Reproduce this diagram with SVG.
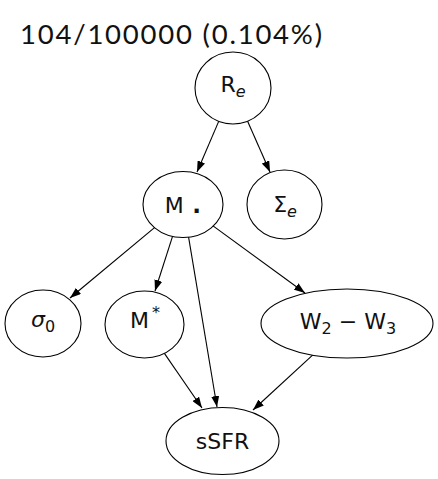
<svg xmlns="http://www.w3.org/2000/svg" width="438" height="479" viewBox="0 0 438 479">
<style>
.n{fill:#fff;stroke:#000;stroke-width:1.1}
.e{stroke:#000;stroke-width:1.1;fill:none;marker-end:url(#ah)}
.t{font-family:"DejaVu Sans",sans-serif;font-size:22px;fill:#111;text-anchor:middle}
.s{font-size:16px;fill:#111}
.i{font-style:italic}
</style>
<defs>
<marker id="ah" markerUnits="userSpaceOnUse" markerWidth="11" markerHeight="8" refX="11" refY="4" orient="auto">
<path d="M0,0 L11,4 L0,8 z" fill="#000"/>
</marker>
</defs>
<rect width="438" height="479" fill="#fff"/>
<text x="20" y="44" font-family="Lato, sans-serif" font-size="27.5" fill="#111" textLength="302" lengthAdjust="spacing">104/100000 (0.104%)</text>
<g id="edges">
<line class="e" x1="218.7" y1="121.4" x2="197" y2="172"/>
<line class="e" x1="247.6" y1="121.2" x2="270" y2="172"/>
<line class="e" x1="154.8" y1="227.4" x2="70" y2="298"/>
<line class="e" x1="172.7" y1="235.9" x2="155" y2="291"/>
<line class="e" x1="188.5" y1="236.7" x2="217" y2="407"/>
<line class="e" x1="213" y1="225.9" x2="305" y2="293"/>
<line class="e" x1="164.4" y1="353.4" x2="202" y2="408"/>
<line class="e" x1="312.6" y1="355.1" x2="253" y2="410"/>
</g>
<g id="Re"><ellipse class="n" cx="233" cy="88" rx="38" ry="36"/><text class="t" x="233" y="92">R<tspan class="s i" dy="4.5">e</tspan></text></g>
<g id="M"><ellipse class="n" cx="183" cy="204.5" rx="40" ry="33"/><text class="t" y="213"><tspan x="174.2">M</tspan><tspan x="196.5" font-weight="bold" font-size="23">.</tspan></text></g>
<g id="Sigma"><ellipse class="n" cx="284.5" cy="204.5" rx="37.5" ry="34.5"/><text class="t" x="285" y="212">Σ<tspan class="s i" dy="4.5">e</tspan></text></g>
<g id="sigma0"><ellipse class="n" cx="43" cy="323.5" rx="38" ry="33.5"/><text class="t" x="43" y="327"><tspan class="i">σ</tspan><tspan class="s" dy="4.5">0</tspan></text></g>
<g id="Mstar"><ellipse class="n" cx="144.5" cy="324.5" rx="39.5" ry="33.5"/><text class="t" x="145" y="328">M<tspan class="s" dx="3" dy="-10">*</tspan></text></g>
<g id="W"><ellipse class="n" cx="347" cy="323.5" rx="86" ry="34.5"/><text class="t" x="348" y="329">W<tspan class="s" dy="4.5">2</tspan><tspan dy="-4.5"> − W</tspan><tspan class="s" dy="4.5">3</tspan></text></g>
<g id="sSFR"><ellipse class="n" cx="222.5" cy="441" rx="56.5" ry="33.5"/><text class="t" x="222.5" y="449">sSFR</text></g>
</svg>
